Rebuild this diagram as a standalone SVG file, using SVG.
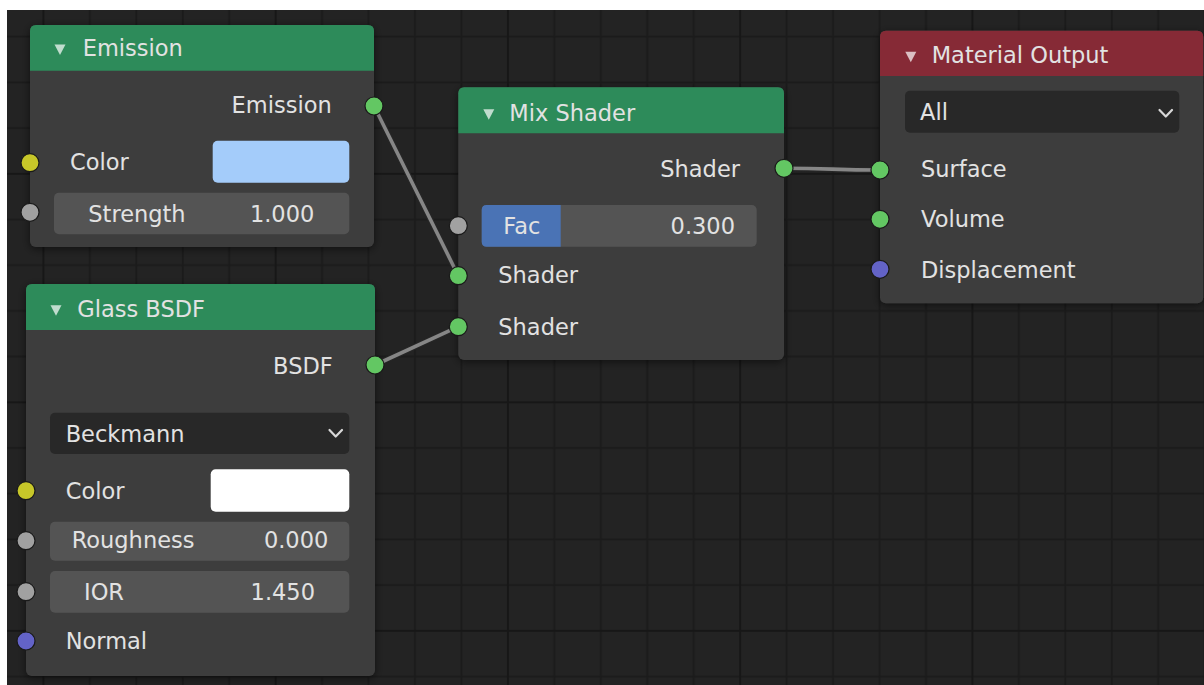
<svg xmlns="http://www.w3.org/2000/svg" width="1204" height="685" viewBox="0 0 1204 685">
<defs>
<pattern id="grid" patternUnits="userSpaceOnUse" x="42.4" y="172.8" width="232.25" height="228.5">
<rect width="232.25" height="228.5" fill="#232323"/>
<g fill="#1b1b1b">
<rect x="46.45" y="0" width="2" height="228.5"/>
<rect x="92.9" y="0" width="2" height="228.5"/>
<rect x="139.35" y="0" width="2" height="228.5"/>
<rect x="185.8" y="0" width="2" height="228.5"/>
<rect x="0" y="45.7" width="232.25" height="2"/>
<rect x="0" y="91.4" width="232.25" height="2"/>
<rect x="0" y="137.1" width="232.25" height="2"/>
<rect x="0" y="182.8" width="232.25" height="2"/>
</g>
<g fill="#171717">
<rect x="0" y="0" width="2" height="228.5"/>
<rect x="0" y="0" width="232.25" height="2"/>
</g>
</pattern>
<filter id="sh" x="-10%" y="-10%" width="120%" height="120%">
<feDropShadow dx="0" dy="2" stdDeviation="4" flood-color="#000" flood-opacity="0.55"/>
</filter>
</defs>
<style>
text{font-family:"DejaVu Sans","Liberation Sans",sans-serif;font-size:22.5px;fill:#e2e2e2}
.end{text-anchor:end}
.body{fill:#3e3e3e}
.hdr{fill:#2d8b5a}
.hdr-out{fill:#862a36}
.tri{fill:#ffffff;fill-opacity:0.7}
.field{fill:#545454}
.drop{fill:#282828}
.chev{fill:none;stroke:#d8d8d8;stroke-width:2.2;stroke-linecap:round;stroke-linejoin:round}
.sock{stroke:#1a1a1a;stroke-width:1.2}
.shader{fill:#63c763}
.color{fill:#c7c729}
.float{fill:#a1a1a1}
.vector{fill:#6363c7}
.wire-bg{fill:none;stroke:#262626;stroke-width:6;stroke-linecap:round}
.wire{fill:none;stroke:#868686;stroke-width:3.6;stroke-linecap:round}
</style>
<rect width="1204" height="685" fill="#ffffff"/>
<rect x="7" y="10" width="1197" height="675" fill="url(#grid)"/>

<g id="connectors">
<path class="wire-bg" d="M374,106 L458.3,275.7"/>
<path class="wire" d="M374,106 L458.3,275.7"/>
<path class="wire-bg" d="M375,365 L458.3,326.7"/>
<path class="wire" d="M375,365 L458.3,326.7"/>
<path class="wire-bg" d="M784,168.3 C832,168.3 832,170 880,170"/>
<path class="wire" d="M784,168.3 C832,168.3 832,170 880,170"/>
</g>

<g id="emission">
<rect class="body" x="30" y="25" width="344" height="222" rx="6" filter="url(#sh)"/>
<path class="hdr" d="M30,70.7 V31 Q30,25 36,25 H368 Q374,25 374,31 V70.7 Z"/>
<polygon class="tri" points="54.5,44.5 65.5,44.5 60,55"/>
<text x="82.7" y="56">Emission</text>
<text class="end" x="331.7" y="113">Emission</text>
<circle class="sock shader" cx="374" cy="106" r="9"/>
<circle class="sock color" cx="30" cy="162.7" r="9"/>
<text x="70" y="170">Color</text>
<rect x="212.7" y="140.7" width="136.6" height="42" rx="5" fill="#a4ccfa"/>
<circle class="sock float" cx="30" cy="212.3" r="9"/>
<rect class="field" x="54" y="192.7" width="295.3" height="41.6" rx="5"/>
<text x="88.3" y="221.7">Strength</text>
<text class="end" x="314.3" y="221.7">1.000</text>
</g>

<g id="glass">
<rect class="body" x="26" y="284" width="349" height="392" rx="6" filter="url(#sh)"/>
<path class="hdr" d="M26,330 V290 Q26,284 32,284 H369 Q375,284 375,290 V330 Z"/>
<polygon class="tri" points="50.5,305.2 61.5,305.2 56,315.7"/>
<text x="77.3" y="316.7">Glass BSDF</text>
<text class="end" x="332.7" y="374">BSDF</text>
<circle class="sock shader" cx="375" cy="365" r="9"/>
<rect class="drop" x="50" y="412.7" width="299.3" height="41.3" rx="5"/>
<text x="65.7" y="441.7">Beckmann</text>
<polyline class="chev" points="329.5,430 335.7,436.5 342,430"/>
<circle class="sock color" cx="26" cy="490.7" r="9"/>
<text x="65.7" y="499.3">Color</text>
<rect x="210.7" y="469.3" width="138.6" height="42.4" rx="5" fill="#ffffff"/>
<circle class="sock float" cx="26" cy="540.7" r="9"/>
<rect class="field" x="50" y="521.7" width="299.3" height="39" rx="5"/>
<text x="71.7" y="548.3">Roughness</text>
<text class="end" x="328.3" y="548.3">0.000</text>
<circle class="sock float" cx="26" cy="591.7" r="9"/>
<rect class="field" x="50" y="571" width="299.3" height="41.7" rx="5"/>
<text x="84" y="600">IOR</text>
<text class="end" x="315" y="600">1.450</text>
<circle class="sock vector" cx="26" cy="641" r="9"/>
<text x="65.7" y="649.3">Normal</text>
</g>

<g id="mix">
<rect class="body" x="458.3" y="87.3" width="325.7" height="272.7" rx="6" filter="url(#sh)"/>
<path class="hdr" d="M458.3,133.3 V93.3 Q458.3,87.3 464.3,87.3 H778 Q784,87.3 784,93.3 V133.3 Z"/>
<polygon class="tri" points="483.3,109.2 494.3,109.2 488.8,119.7"/>
<text x="509.3" y="120.7">Mix Shader</text>
<text class="end" x="740" y="177.3">Shader</text>
<circle class="sock shader" cx="784" cy="168.3" r="9"/>
<rect class="field" x="481.7" y="205" width="275" height="41.7" rx="5"/>
<path d="M560.7,205 H486.7 Q481.7,205 481.7,210 V241.7 Q481.7,246.7 486.7,246.7 H560.7 Z" fill="#4a73b5"/>
<text x="503.3" y="234">Fac</text>
<text class="end" x="735" y="234">0.300</text>
<circle class="sock float" cx="458.3" cy="225.7" r="9"/>
<circle class="sock shader" cx="458.3" cy="275.7" r="9"/>
<text x="498.3" y="283.3">Shader</text>
<circle class="sock shader" cx="458.3" cy="326.7" r="9"/>
<text x="498.3" y="335">Shader</text>
</g>

<g id="material-output">
<rect class="body" x="880" y="30.7" width="323.3" height="272.6" rx="6" filter="url(#sh)"/>
<path class="hdr-out" d="M880,76 V36.7 Q880,30.7 886,30.7 H1197.3 Q1203.3,30.7 1203.3,36.7 V76 Z"/>
<polygon class="tri" points="905.3,51.8 916.3,51.8 910.8,62.3"/>
<text x="931.7" y="63.3">Material Output</text>
<rect class="drop" x="905" y="90.7" width="274.3" height="42" rx="5"/>
<text x="920" y="120">All</text>
<polyline class="chev" points="1159.5,110 1165.8,116.5 1172,110"/>
<circle class="sock shader" cx="880" cy="170" r="9"/>
<text x="921" y="176.7">Surface</text>
<circle class="sock shader" cx="880" cy="219.3" r="9"/>
<text x="921" y="226.7">Volume</text>
<circle class="sock vector" cx="880" cy="269.3" r="9"/>
<text x="921" y="278.3">Displacement</text>
</g>
</svg>
